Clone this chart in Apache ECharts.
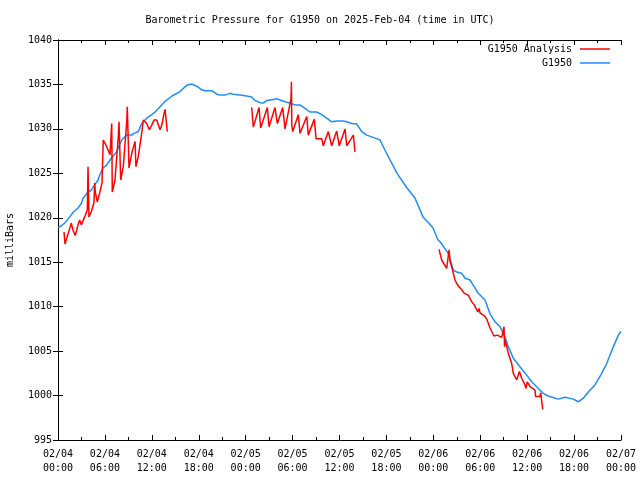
<!DOCTYPE html>
<html>
<head>
<meta charset="utf-8">
<script src="https://cdn.jsdelivr.net/npm/echarts@6/dist/echarts.min.js"></script>
<style>html,body{margin:0;padding:0;background:#fff}#c{width:640px;height:480px}</style>
</head>
<body>
<div id="c"></div>
<script>
// ---- data (hours since 2025-02-04 00:00 UTC, millibars) ----
var titleText = 'Barometric Pressure for G1950 on 2025-Feb-04 (time in UTC)';
var yAxisName = 'milliBars';
var seriesNames = ['G1950 Analysis', 'G1950'];

var blueHours = [0.00,0.42,0.86,1.50,1.92,2.56,2.98,3.20,3.84,4.26,4.69,5.12,5.33,5.76,6.18,6.65,7.48,8.15,8.79,9.43,9.72,10.27,10.70,11.34,11.98,12.41,13.05,13.69,14.58,15.60,16.46,17.10,17.74,18.38,18.80,19.66,20.30,20.72,21.36,22.00,22.42,23.28,24.13,24.77,25.19,25.83,26.26,26.69,27.54,27.97,28.39,29.03,29.67,30.31,30.95,31.59,32.23,33.09,33.72,34.36,35.00,35.64,36.49,36.92,37.56,38.20,38.84,39.48,40.12,40.76,41.18,41.82,43.36,44.64,45.66,46.68,47.32,47.96,48.60,48.86,49.92,50.56,50.99,51.63,52.05,52.69,53.11,53.75,54.61,55.25,55.89,56.53,57.17,57.59,58.23,59.08,59.94,60.58,61.22,61.64,62.06,62.70,62.92,63.98,64.84,65.90,66.54,67.18,67.82,68.67,69.53,70.17,71.02,71.66,72.00];
var blueValues = [1018.9,1019.1,1019.4,1020.1,1020.6,1021.1,1021.6,1022.2,1022.9,1023.1,1023.7,1024.25,1024.8,1025.6,1025.9,1026.5,1027.4,1028.75,1029.3,1029.3,1029.5,1029.7,1030.6,1031.2,1031.6,1031.9,1032.5,1033.1,1033.7,1034.2,1034.9,1035.05,1034.8,1034.4,1034.3,1034.3,1033.9,1033.8,1033.8,1034.0,1033.9,1033.8,1033.7,1033.6,1033.2,1032.95,1032.9,1033.2,1033.3,1033.4,1033.25,1033.05,1032.9,1032.7,1032.7,1032.3,1031.9,1031.9,1031.6,1031.2,1030.8,1030.9,1030.9,1030.8,1030.6,1030.55,1029.7,1029.3,1029.1,1028.9,1028.75,1027.6,1025.0,1023.35,1022.2,1020.1,1019.5,1018.85,1017.5,1017.3,1016.0,1014.1,1013.9,1013.75,1013.2,1013.0,1012.4,1011.5,1010.75,1009.2,1008.3,1007.75,1006.6,1005.5,1004.2,1003.25,1002.3,1001.55,1001.0,1000.6,1000.25,999.95,999.9,999.6,999.8,999.6,999.3,999.7,1000.4,1001.2,1002.5,1003.6,1005.5,1006.8,1007.2];

var redSeg1Hours = [0.77,0.90,1.70,1.92,2.21,2.56,2.78,2.98,3.41,3.75,3.84,3.96,4.26,4.60,4.69,4.77,5.03,5.33,5.63,5.79,6.23,6.65,6.87,6.94,7.29,7.71,7.80,8.02,8.35,8.79,8.86,9.08,9.43,9.85,9.97,10.27,10.70,10.91,11.34,11.68,11.98,12.28,12.62,13.05,13.27,13.56,13.69,13.98];
var redSeg1Values = [1018.4,1017.05,1019.4,1018.6,1018.0,1019.2,1019.75,1019.2,1020.1,1020.9,1025.75,1020.1,1020.7,1021.7,1023.9,1022.9,1021.8,1022.8,1023.9,1028.75,1028.0,1027.1,1030.6,1022.9,1024.25,1029.1,1030.8,1024.25,1025.75,1030.8,1032.5,1025.6,1027.25,1028.6,1025.75,1026.9,1029.5,1031.0,1030.6,1029.9,1030.4,1031.0,1031.0,1029.9,1030.4,1031.75,1032.2,1029.7];

var redSeg2Hours = [24.77,24.98,25.71,25.92,26.77,26.99,27.75,28.05,28.74,29.03,29.80,29.85,29.90,30.02,30.73,30.95,31.81,32.01,32.78,33.00,33.72,33.93,34.57,35.00,35.64,35.97,36.71,36.92,37.77,37.98];
var redSeg2Values = [1032.4,1030.2,1032.4,1030.1,1032.4,1030.25,1032.4,1030.6,1032.4,1030.0,1033.4,1035.3,1030.4,1029.7,1031.6,1029.5,1031.4,1029.3,1031.1,1028.9,1028.9,1028.1,1029.7,1028.1,1029.75,1028.1,1030.0,1028.1,1029.3,1027.4];

var redSeg3Hours = [48.73,49.07,49.71,49.84,50.01,50.13,50.35,50.56,50.77,51.12,51.63,51.96,52.47,52.91,53.24,53.68,53.84,53.97,54.61,54.83,55.25,55.76,56.18,56.75,56.95,57.04,57.10,57.17,57.59,58.02,58.23,58.66,59.00,59.30,59.72,59.85,60.02,60.37,61.01,61.07,61.64,61.73,61.86,61.94,61.99];
var redSeg3Values = [1016.45,1015.25,1014.3,1014.2,1016.4,1015.1,1014.5,1013.75,1013.0,1012.4,1011.9,1011.5,1011.3,1010.55,1010.2,1009.4,1009.8,1009.3,1008.9,1008.6,1007.6,1006.7,1006.8,1006.55,1006.6,1007.75,1005.5,1006.3,1004.75,1003.6,1002.5,1001.75,1002.7,1001.95,1001.2,1000.8,1001.55,1001.0,1000.6,999.9,999.9,1000.3,1000.5,1000.1,998.45];

var xMin = 0, xMax = 72, xStep = 6;
var yMin = 995, yMax = 1040, yStep = 5;
var startDay = 4; // 02/04

// ---- build ----
function pairs(h, v) { var out = []; for (var i = 0; i < h.length; i++) out.push([h[i], v[i]]); return out; }
var redData = pairs(redSeg1Hours, redSeg1Values)
  .concat([[19, null]])
  .concat(pairs(redSeg2Hours, redSeg2Values))
  .concat([[43, null]])
  .concat(pairs(redSeg3Hours, redSeg3Values));
var blueData = pairs(blueHours, blueValues);

function pad(n) { return (n < 10 ? '0' : '') + n; }
function fmtX(h) {
  var d = startDay + Math.floor(h / 24);
  var hh = Math.round(h % 24);
  return '02/' + pad(d) + '\n' + pad(hh) + ':00';
}

var FONT = 'DejaVu Sans Mono';
var chart = echarts.init(document.getElementById('c'), null, { renderer: 'canvas' });
var axisLine = { show: true, lineStyle: { color: '#000', width: 1 } };
chart.setOption({
  animation: false,
  backgroundColor: '#fff',
  title: { text: titleText, left: 'center', top: 10,
    textStyle: { fontFamily: FONT, fontSize: 10, fontWeight: 'normal', color: '#000' } },
  legend: {
    data: seriesNames, orient: 'vertical', right: 25, top: 38, align: 'right',
    itemWidth: 30, itemHeight: 1.5, itemGap: 2, icon: 'rect',
    textStyle: { fontFamily: FONT, fontSize: 10, color: '#000', lineHeight: 12, padding: [0, 3, 0, 0] }
  },
  grid: { left: 58, right: 19, top: 40, bottom: 40, containLabel: false, outerBoundsMode: 'none' },
  xAxis: [{
    type: 'value', min: xMin, max: xMax, interval: xStep, position: 'bottom',
    axisLine: axisLine, splitLine: { show: false },
    axisTick: { show: true, inside: true, length: 5, lineStyle: { color: '#000' } },
    minorTick: { show: true, splitNumber: 2, length: 3, lineStyle: { color: '#000' } },
    axisLabel: { formatter: fmtX, fontFamily: FONT, fontSize: 10, color: '#000', lineHeight: 14, margin: 7 }
  }, {
    type: 'value', min: xMin, max: xMax, interval: xStep, position: 'top',
    axisLine: axisLine, splitLine: { show: false },
    axisTick: { show: true, inside: true, length: 5, lineStyle: { color: '#000' } },
    minorTick: { show: true, splitNumber: 2, length: 3, lineStyle: { color: '#000' } },
    axisLabel: { show: false }
  }],
  yAxis: [{
    type: 'value', min: yMin, max: yMax, interval: yStep, position: 'left',
    name: yAxisName, nameLocation: 'middle', nameGap: 43, nameRotate: 90,
    nameTextStyle: { fontFamily: FONT, fontSize: 10, color: '#000' },
    axisLine: axisLine, splitLine: { show: false },
    axisTick: { show: true, inside: true, length: 5, lineStyle: { color: '#000' } },
    axisLabel: { formatter: function (v) { return String(v); }, fontFamily: FONT, fontSize: 10, color: '#000', margin: 6 }
  }, {
    type: 'value', min: yMin, max: yMax, interval: yStep, position: 'right',
    axisLine: axisLine, splitLine: { show: false },
    axisTick: { show: true, inside: true, length: 5, lineStyle: { color: '#000' } },
    axisLabel: { show: false }
  }],
  series: [{
    name: seriesNames[0], type: 'line', data: redData, showSymbol: false, symbol: 'none',
    connectNulls: false, color: '#ff0000', lineStyle: { color: '#ff0000', width: 1.5 }, z: 3
  }, {
    name: seriesNames[1], type: 'line', data: blueData, showSymbol: false, symbol: 'none',
    color: '#1e8cff', lineStyle: { color: '#1e8cff', width: 1.5 }, z: 2
  }]
});
</script>
</body>
</html>
